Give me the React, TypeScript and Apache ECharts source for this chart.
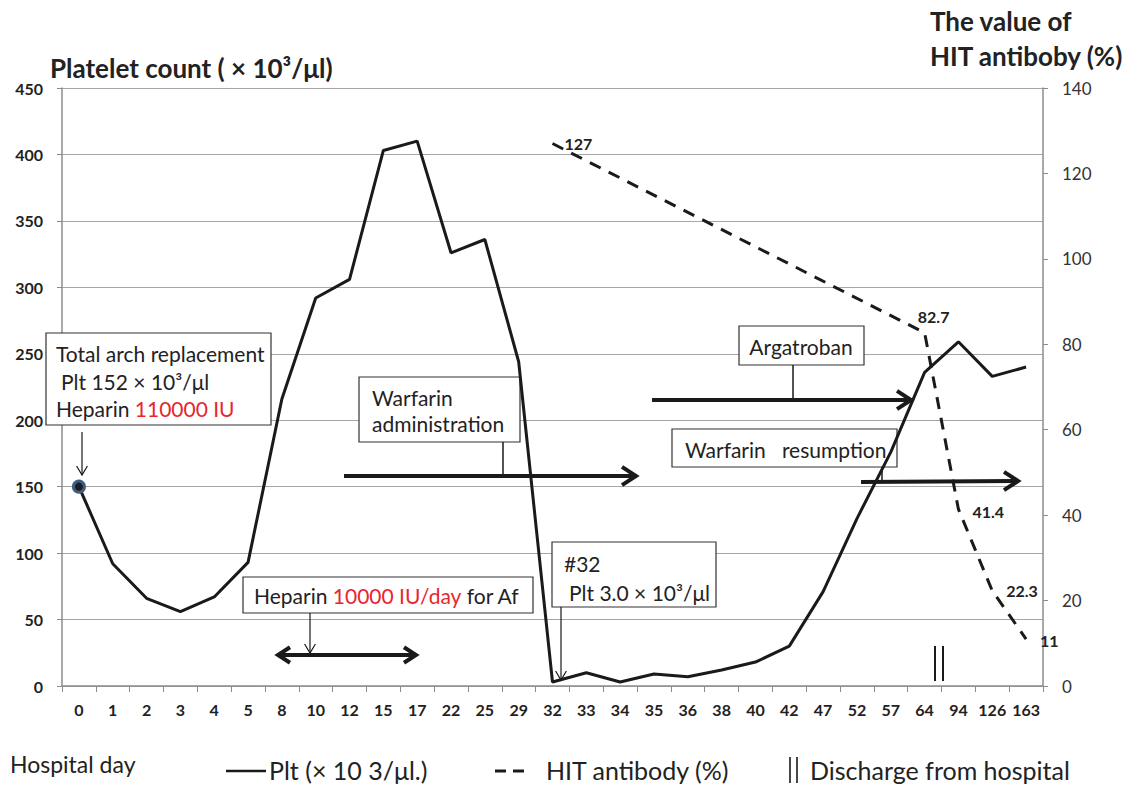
import React, { useEffect, useRef } from "react";
import * as echarts from "echarts";

const days = ["0","1","2","3","4","5","8","10","12","15","17","22","25","29","32","33","34","35","36","38","40","42","47","52","57","64","94","126","163"];
const plt = [150,92,66,56,67,93,216,292,306,403,410,326,336,244,3,10,3,9,7,12,18,30,71,126,176,236,259,233,240];
// HIT antibody measured on days 32, 64, 94, 126, 163
const hitDays = ["32","64","94","126","163"];
const hitValues = [127,82.7,41.4,22.3,11];
const leftTicks = { min: 0, max: 450, interval: 50 };
const rightTicks = { min: 0, max: 140, interval: 20 };

const FONT = "Lato, 'Open Sans', sans-serif";
const INK = "#1a1a1a";
const BOXFS = 21;
const LEGFS = 25;
const LEGY = 770;

function arrowHeadRight(x: number, y: number, s: number, w: number) {
  return { type: "polyline", z: 5, shape: { points: [[x - s, y - s * 0.65], [x, y], [x - s, y + s * 0.65]] }, style: { stroke: INK, lineWidth: w, fill: null, lineJoin: "miter" } };
}
function arrowHeadLeft(x: number, y: number, s: number, w: number) {
  return { type: "polyline", z: 5, shape: { points: [[x + s, y - s * 0.65], [x, y], [x + s, y + s * 0.65]] }, style: { stroke: INK, lineWidth: w, fill: null } };
}
function arrowHeadDown(x: number, y: number, s: number, w: number) {
  return { type: "polyline", z: 5, shape: { points: [[x - s * 0.6, y - s], [x, y], [x + s * 0.6, y - s]] }, style: { stroke: INK, lineWidth: w, fill: null } };
}
function line(x1: number, y1: number, x2: number, y2: number, w: number, dash?: number[]) {
  return { type: "line", z: 5, shape: { x1, y1, x2, y2 }, style: { stroke: INK, lineWidth: w, lineDash: dash } };
}
function box(x: number, y: number, w: number, h: number) {
  return { type: "rect", z: 1, shape: { x, y, width: w, height: h }, style: { fill: "#fff", stroke: "#333", lineWidth: 1.2 } };
}
function txt(x: number, y: number, text: string, size: number, extra: any = {}) {
  return { type: "text", z: 6, x, y, style: { text, font: `${extra.weight || "normal"} ${size}px ${FONT}`, fill: extra.fill || "#222", textVerticalAlign: "middle", textAlign: extra.align || "left" } };
}
function redTxt(x: number, y: number, text: string, size: number) {
  return { type: "text", z: 6, x, y, style: { text, font: `normal ${size}px ${FONT}`, fill: "#222", textVerticalAlign: "middle", rich: { r: { fill: "#e8262b", fontSize: size, fontFamily: FONT } } } };
}

export default function App() {
  const ref = useRef<HTMLDivElement>(null);
  useEffect(() => {
    if (!ref.current) return;
    const chart = echarts.init(ref.current, null, { renderer: "svg" });
    const labelCfg: any[] = [
      { position: "right", distance: 6, offset: [6, 0] },
      { position: "top", distance: 8, offset: [9, 0] },
      { position: "right", distance: 14, offset: [0, 2] },
      { position: "right", distance: 14, offset: [0, 0] },
      { position: "right", distance: 14, offset: [0, 1] },
    ];
    const hitData = days.map((d) => {
      const k = hitDays.indexOf(d);
      if (k < 0) return null;
      const v = hitValues[k];
      return {
        value: v,
        label: { show: true, formatter: String(v), fontFamily: FONT, fontWeight: "bold", fontSize: 16, color: "#222", ...labelCfg[k] },
      };
    });
    const pltData: any[] = plt.map((v, i) =>
      i === 0
        ? { value: v, symbol: "circle", symbolSize: 11, itemStyle: { color: "#1e1e1e", borderColor: "#3e5f82", borderWidth: 3 } }
        : v
    );

    const graphics: any[] = [
      // Titles
      txt(50, 68, "Platelet count ( × 10³/μl)", 26, { weight: "bold" }),
      txt(930, 21, "The value of", 26, { weight: "bold" }),
      txt(930, 56, "HIT antiboby (%)", 26, { weight: "bold" }),
      // Total arch replacement
      box(46, 333, 225, 92),
      txt(56, 353, "Total arch replacement", BOXFS),
      txt(61, 381, "Plt 152 × 10³/μl", BOXFS),
      redTxt(56, 408, "Heparin {r|110000 IU}", BOXFS),
      line(82, 432, 82, 475, 1.2),
      arrowHeadDown(82, 475, 9, 1.2),
      // Warfarin administration
      box(359, 377, 161, 65),
      txt(372, 397, "Warfarin", BOXFS),
      txt(372, 423, "administration", BOXFS),
      line(503, 442, 503, 476, 1.5),
      line(344, 476, 634, 476, 4),
      arrowHeadRight(636, 476, 14, 4),
      // Heparin 10000 IU/day
      box(243, 577, 290, 36),
      redTxt(254, 595, "Heparin {r|10000 IU/day} for Af", BOXFS),
      line(310, 613, 310, 653, 1.2),
      arrowHeadDown(310, 653, 9, 1.2),
      line(280, 655, 414, 655, 4),
      arrowHeadLeft(278, 655, 12, 4),
      arrowHeadRight(416, 655, 12, 4),
      // #32
      box(552, 542, 164, 65),
      txt(564, 563, "#32", BOXFS),
      txt(569, 592, "Plt 3.0 × 10³/μl", BOXFS),
      line(561, 607, 561, 679, 1.2),
      arrowHeadDown(561, 680, 9, 1.2),
      // Argatroban
      box(739, 326, 125, 39),
      txt(801, 346, "Argatroban", BOXFS, { align: "center" }),
      line(793, 365, 793, 400, 1.5),
      line(652, 400, 909, 400, 4),
      arrowHeadRight(911, 400, 14, 4),
      // Warfarin resumption
      box(672, 429, 225, 38),
      txt(685, 449, "Warfarin   resumption", BOXFS),
      line(882, 467, 882, 482, 1.5),
      line(861, 482, 1015, 481, 4),
      arrowHeadRight(1018, 481, 14, 4),
      // Discharge marker
      line(935, 646, 935, 681, 2),
      line(943, 646, 943, 681, 2),
      // Bottom legend
      txt(10, 764, "Hospital day", 23),
      line(226, LEGY + 1, 266, LEGY + 1, 2.5),
      txt(269, LEGY, "Plt (× 10 3/μl.)", LEGFS),
      line(495, LEGY + 1, 506, LEGY + 1, 3),
      line(513, LEGY + 1, 524, LEGY + 1, 3),
      txt(546, LEGY, "HIT antibody (%)", LEGFS),
      line(790, LEGY - 13, 790, LEGY + 13, 1.6),
      line(797, LEGY - 13, 797, LEGY + 13, 1.6),
      txt(810, LEGY, "Discharge from hospital", LEGFS),
    ];

    chart.setOption({
      animation: false,
      backgroundColor: "#fff",
      textStyle: { fontFamily: FONT },
      grid: { left: 62, right: 84, top: 88, bottom: 101, containLabel: false },
      xAxis: {
        type: "category",
        data: days,
        boundaryGap: true,
        axisLine: { lineStyle: { color: "#8c8c8c", width: 1.5 } },
        axisTick: { show: true, interval: 0, length: 6, lineStyle: { color: "#8c8c8c" } },
        axisLabel: { interval: 0, margin: 15, fontWeight: "bold", fontSize: 16, color: "#222", fontFamily: FONT },
      },
      yAxis: [
        {
          type: "value",
          ...leftTicks,
          axisLine: { show: true, lineStyle: { color: "#8c8c8c", width: 1.5 } },
          axisTick: { show: true, length: 5, lineStyle: { color: "#8c8c8c" } },
          axisLabel: { margin: 19, fontWeight: "bold", fontSize: 16, color: "#222", fontFamily: FONT },
          splitLine: { show: true, lineStyle: { color: "#a6a6a6", width: 1.2 } },
        },
        {
          type: "value",
          ...rightTicks,
          position: "right",
          axisLine: { show: true, lineStyle: { color: "#8c8c8c", width: 1.5 } },
          axisTick: { show: true, length: 5, lineStyle: { color: "#8c8c8c" } },
          axisLabel: { margin: 19, fontSize: 17, color: "#333", fontFamily: FONT },
          splitLine: { show: false },
        },
      ],
      series: [
        {
          name: "Plt (× 10 3/μl.)",
          type: "line",
          data: pltData,
          symbol: "none",
          z: 3,
          lineStyle: { color: INK, width: 3 },
          itemStyle: { color: INK },
        },
        {
          name: "HIT antibody (%)",
          type: "line",
          yAxisIndex: 1,
          data: hitData,
          connectNulls: true,
          symbol: "circle",
          symbolSize: 0.01,
          showSymbol: true,
          z: 3,
          lineStyle: { color: INK, width: 3, type: [12, 9] },
          itemStyle: { color: INK },
        },
      ],
      graphic: { elements: graphics },
    });
    return () => chart.dispose();
  }, []);
  return <div ref={ref} style={{ position: "fixed", left: 0, top: 0, width: 1127, height: 787, background: "#fff" }} />;
}
